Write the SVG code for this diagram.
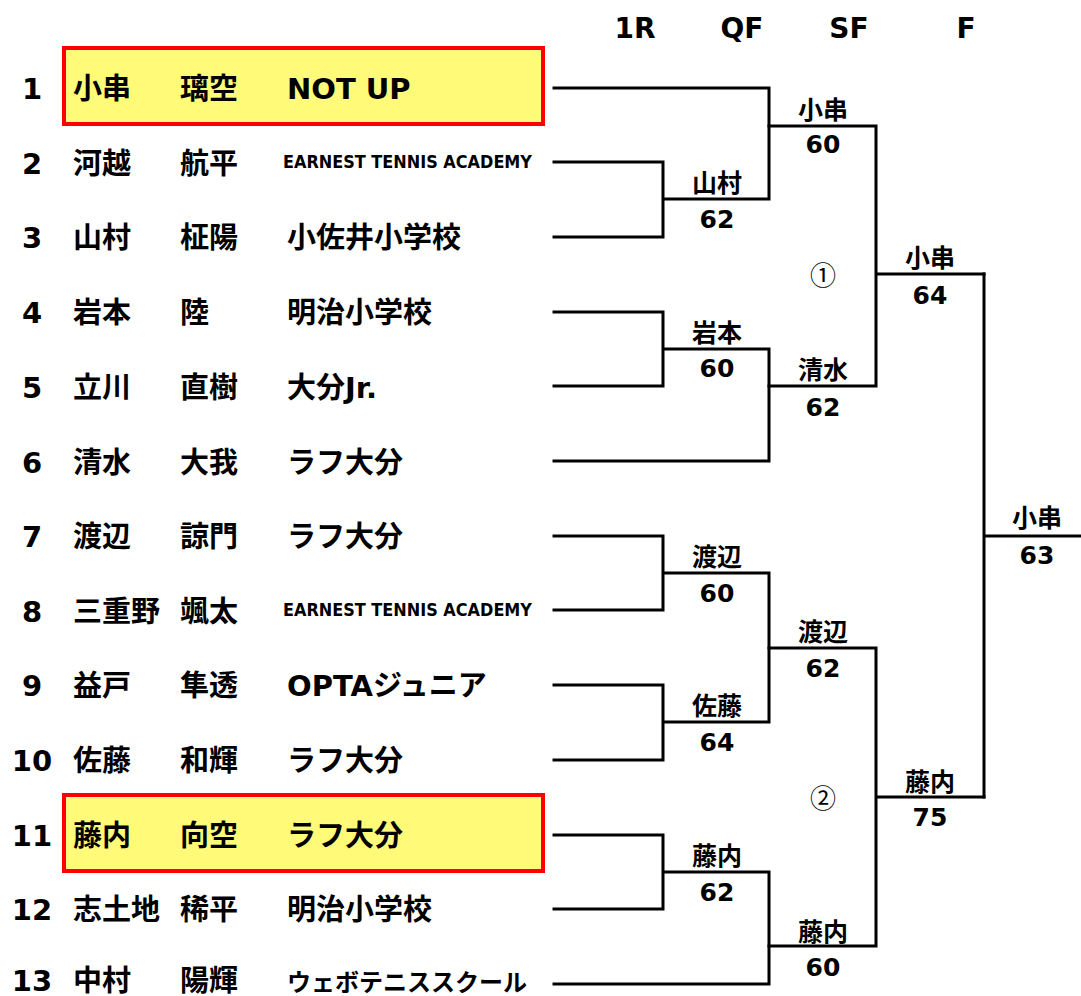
<svg xmlns="http://www.w3.org/2000/svg" width="1081" height="996" viewBox="0 0 1081 996">
<style>
text{font-family:"DejaVu Sans","Noto Sans CJK JP",sans-serif;fill:#000;font-weight:bold}
.hd{font-size:28px;text-anchor:middle}
.no{font-size:29px;text-anchor:middle}
.nm{font-size:29px}
.sm{font-size:17px}
.md{font-size:24px}
.lb{font-size:25px;text-anchor:middle}
.ci{font-size:26px;text-anchor:middle;font-weight:normal;font-family:"Noto Sans CJK JP",sans-serif}
.hl{fill:#fffa78;stroke:#ff0000;stroke-width:4}
.ln{fill:none;stroke:#000;stroke-width:3;stroke-linejoin:miter;stroke-linecap:square}
</style>
<rect width="1081" height="996" fill="#fff"/>
<g id="header">
<text class="hd" x="635" y="38">1R</text>
<text class="hd" x="742" y="38">QF</text>
<text class="hd" x="849" y="38">SF</text>
<text class="hd" x="966" y="38">F</text>
</g>
<g id="row1"><rect class="hl" x="64" y="48" width="479" height="76"/><text class="no" x="32" y="99">1</text><text class="nm" x="73" y="99">小串</text><text class="nm" x="180" y="99">璃空</text><text class="nm" x="287" y="99">NOT UP</text></g>
<g id="row2"><text class="no" x="32" y="174">2</text><text class="nm" x="73" y="174">河越</text><text class="nm" x="180" y="174">航平</text><text class="sm" x="283" y="168" textLength="249" lengthAdjust="spacingAndGlyphs">EARNEST TENNIS ACADEMY</text></g>
<g id="row3"><text class="no" x="32" y="248">3</text><text class="nm" x="73" y="248">山村</text><text class="nm" x="180" y="248">柾陽</text><text class="nm" x="287" y="248">小佐井小学校</text></g>
<g id="row4"><text class="no" x="32" y="323">4</text><text class="nm" x="73" y="323">岩本</text><text class="nm" x="180" y="323">陸</text><text class="nm" x="287" y="323">明治小学校</text></g>
<g id="row5"><text class="no" x="32" y="398">5</text><text class="nm" x="73" y="398">立川</text><text class="nm" x="180" y="398">直樹</text><text class="nm" x="287" y="398">大分Jr.</text></g>
<g id="row6"><text class="no" x="32" y="473">6</text><text class="nm" x="73" y="473">清水</text><text class="nm" x="180" y="473">大我</text><text class="nm" x="287" y="473">ラフ大分</text></g>
<g id="row7"><text class="no" x="32" y="547">7</text><text class="nm" x="73" y="547">渡辺</text><text class="nm" x="180" y="547">諒門</text><text class="nm" x="287" y="547">ラフ大分</text></g>
<g id="row8"><text class="no" x="32" y="622">8</text><text class="nm" x="73" y="622">三重野</text><text class="nm" x="180" y="622">颯太</text><text class="sm" x="283" y="616" textLength="249" lengthAdjust="spacingAndGlyphs">EARNEST TENNIS ACADEMY</text></g>
<g id="row9"><text class="no" x="32" y="696">9</text><text class="nm" x="73" y="696">益戸</text><text class="nm" x="180" y="696">隼透</text><text class="nm" x="287" y="696">OPTAジュニア</text></g>
<g id="row10"><text class="no" x="32" y="771">10</text><text class="nm" x="73" y="771">佐藤</text><text class="nm" x="180" y="771">和輝</text><text class="nm" x="287" y="771">ラフ大分</text></g>
<g id="row11"><rect class="hl" x="64" y="795" width="479" height="76"/><text class="no" x="32" y="846">11</text><text class="nm" x="73" y="846">藤内</text><text class="nm" x="180" y="846">向空</text><text class="nm" x="287" y="846">ラフ大分</text></g>
<g id="row12"><text class="no" x="32" y="920">12</text><text class="nm" x="73" y="920">志土地</text><text class="nm" x="180" y="920">稀平</text><text class="nm" x="287" y="920">明治小学校</text></g>
<g id="row13"><text class="no" x="32" y="991">13</text><text class="nm" x="73" y="991">中村</text><text class="nm" x="180" y="991">陽輝</text><text class="md" x="287" y="991">ウェボテニススクール</text></g>
<g id="connectors" class="ln">
<path d="M554,162 H663 V237 H554 M663,199 H769 V88 H554"/>
<path d="M554,312 H663 V386 H554 M663,349 H769 V461 H554"/>
<path d="M769,126 H876 V386 H769 M876,274 H984"/>
<path d="M554,536 H663 V610 H554 M554,685 H663 V760 H554 M663,573 H769 V722 H663"/>
<path d="M554,835 H663 V909 H554 M663,872 H769 V984 H554"/>
<path d="M769,648 H876 V946 H769 M876,797 H984"/>
<path d="M984,274 V797 M984,536 H1081"/>
</g>
<g id="m-qf1"><text class="lb" x="717" y="192">山村</text><text class="lb" x="717" y="228">62</text></g>
<g id="m-qf2"><text class="lb" x="717" y="342">岩本</text><text class="lb" x="717" y="377">60</text></g>
<g id="m-qf3"><text class="lb" x="717" y="566">渡辺</text><text class="lb" x="717" y="602">60</text></g>
<g id="m-qf4"><text class="lb" x="717" y="715">佐藤</text><text class="lb" x="717" y="751">64</text></g>
<g id="m-qf5"><text class="lb" x="717" y="865">藤内</text><text class="lb" x="717" y="901">62</text></g>
<g id="m-sf1"><text class="lb" x="823" y="119">小串</text><text class="lb" x="823" y="153">60</text></g>
<g id="m-sf2"><text class="lb" x="823" y="379">清水</text><text class="lb" x="823" y="416">62</text></g>
<g id="m-sf3"><text class="lb" x="823" y="641">渡辺</text><text class="lb" x="823" y="677">62</text></g>
<g id="m-sf4"><text class="lb" x="823" y="941">藤内</text><text class="lb" x="823" y="976">60</text></g>
<g id="m-f1"><text class="lb" x="930" y="267">小串</text><text class="lb" x="930" y="304">64</text></g>
<g id="m-f2"><text class="lb" x="930" y="791">藤内</text><text class="lb" x="930" y="826">75</text></g>
<g id="m-final"><text class="lb" x="1037" y="527">小串</text><text class="lb" x="1037" y="564">63</text></g>
<g id="block1"><text class="ci" x="823" y="285">①</text></g>
<g id="block2"><text class="ci" x="823" y="808">②</text></g>
</svg>
